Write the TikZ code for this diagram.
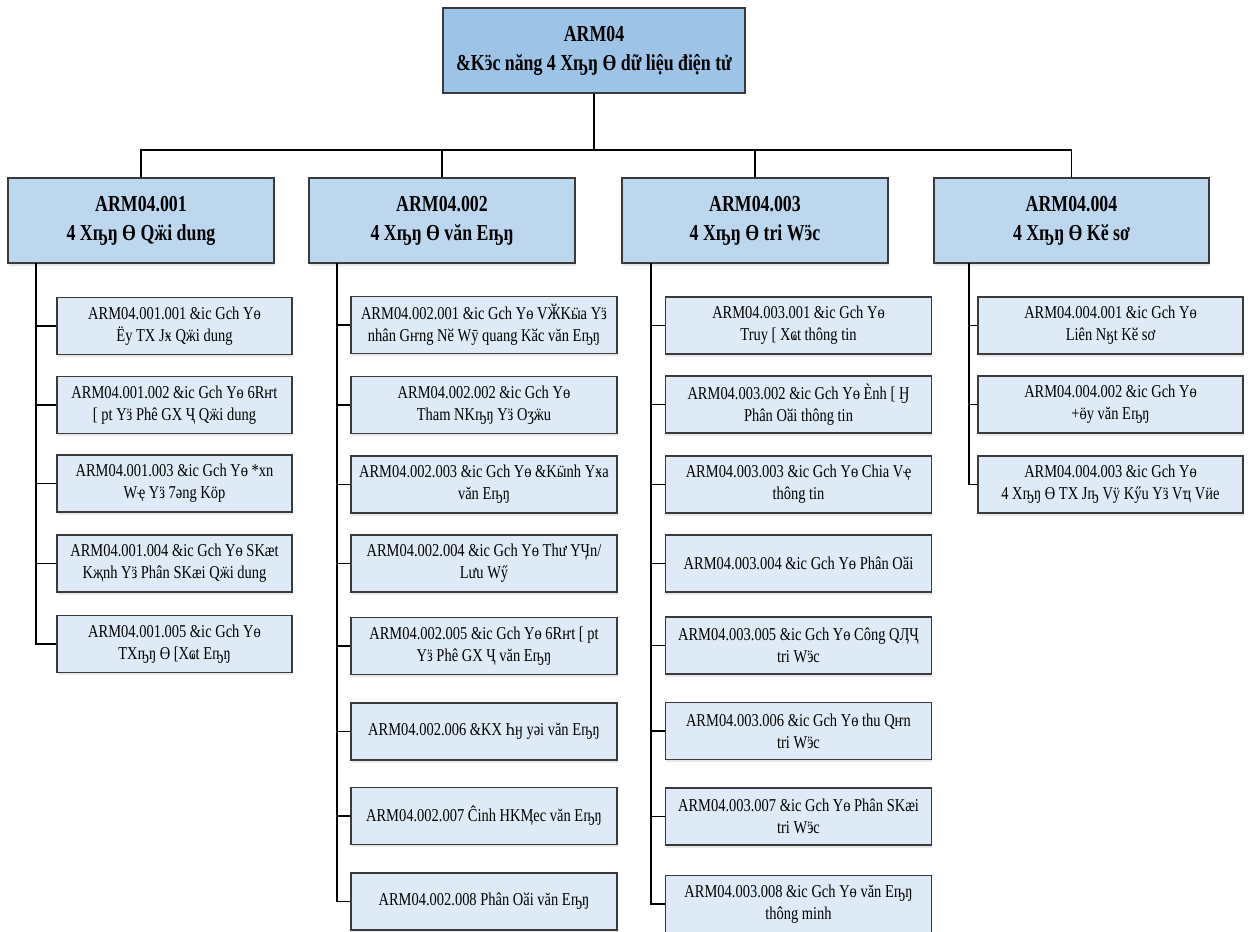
\documentclass[tikz,border=0pt]{standalone}
\usepackage{fontspec}
\setmainfont{Liberation Serif}[FakeStretch=0.78]
\newfontfamily\itemfont{Liberation Serif}[FakeStretch=0.8]
\usetikzlibrary{shadows}

\definecolor{rootblue}{HTML}{9DC3E6}
\definecolor{groupblue}{HTML}{BDD7EE}
\definecolor{itemblue}{HTML}{DEEBF7}
\definecolor{edgegray}{HTML}{3A3A3A}

\begin{document}
\begin{tikzpicture}[x=0.02cm, y=-0.02cm,
	rootbox/.style={draw=edgegray, thick, fill=rootblue, align=center, inner xsep=1pt, font=\fontsize{13}{16.5}\selectfont\bfseries, minimum width=6.04cm, minimum height=1.7cm},
	groupbox/.style={draw=edgegray, thick, fill=groupblue, align=center, font=\fontsize{13}{16.5}\selectfont\bfseries, minimum width=5.32cm, minimum height=1.7cm, drop shadow={shadow xshift=0.4pt, shadow yshift=-1.6pt, opacity=0.18}},
	itembox/.style={draw=edgegray, thick, fill=itemblue, align=center, inner xsep=1pt, font=\itemfont\fontsize{10.3}{12.6}\selectfont, minimum width=5.32cm, minimum height=1.14cm, drop shadow={shadow xshift=0.4pt, shadow yshift=-1.6pt, opacity=0.18}},
	link/.style={black, line width=0.8pt}]
	\useasboundingbox (0,0) rectangle (1251,931);
	% top
	\node[rootbox] (root) at (594,50.5) {ARM04\\\&Kӭc năng 4 Xҧŋ Ө dữ liệu điện tử};
	% groups
	\node[groupbox] (a) at (141,220.5) {ARM04.001\\4 Xҧŋ Ө Qӝi dung};
	\node[groupbox] (b) at (442,220.5) {ARM04.002\\4 Xҧŋ Ө văn Eҧŋ};
	\node[groupbox] (c) at (755,220.5) {ARM04.003\\4 Xҧŋ Ө tri Wӭc};
	\node[groupbox, minimum width=5.5cm] (d) at (1071.5,220.5) {ARM04.004\\4 Xҧŋ Ө Kӗ sơ};
	% items ARM04.001
	\node[itembox, minimum width=4.7cm] (a1) at (174.5,326) {ARM04.001.001 \&ic Gch Yө\\Ëy TX Jӿ Qӝi dung};
	\node[itembox, minimum width=4.7cm] (a2) at (174.5,405) {ARM04.001.002 \&ic Gch Yө 6Rҥt\\{}[ pt Yӟ Phê GX Ҷ Qӝi dung};
	\node[itembox, minimum width=4.7cm] (a3) at (174.5,483.5) {ARM04.001.003 \&ic Gch Yө *xn\\Wҿ Yӟ 7әng Kӧp};
	\node[itembox, minimum width=4.7cm] (a4) at (174.5,563.5) {ARM04.001.004 \&ic Gch Yө SKӕt\\Kҗnh Yӟ Phân SKӕi Qӝi dung};
	\node[itembox, minimum width=4.7cm] (a5) at (174.5,644) {ARM04.001.005 \&ic Gch Yө\\TXҧŋ Ө [Xҩt Eҧŋ};
	% items ARM04.002
	\node[itembox] (b1) at (484,325) {ARM04.002.001 \&ic Gch Yө VӁKӹa Yӟ\\nhân Gҥng Nӗ Wӯ quang Kӑc văn Eҧŋ};
	\node[itembox] (b2) at (484,405) {ARM04.002.002 \&ic Gch Yө\\Tham NKҧŋ Yӟ Oӡӝu};
	\node[itembox] (b3) at (484,484.5) {ARM04.002.003 \&ic Gch Yө \&Kӹnh Yӿa\\văn Eҧŋ};
	\node[itembox] (b4) at (484,563.5) {ARM04.002.004 \&ic Gch Yө Thư YӋn/\\Lưu Wӳ};
	\node[itembox] (b5) at (484,646) {ARM04.002.005 \&ic Gch Yө 6Rҥt [ pt\\Yӟ Phê GX Ҷ văn Eҧŋ};
	\node[itembox] (b6) at (484,731.5) {ARM04.002.006 \&KX Һӈ yәi văn Eҧŋ};
	\node[itembox] (b7) at (484,816) {ARM04.002.007 Ĉinh HKӍec văn Eҧŋ};
	\node[itembox] (b8) at (484,901.5) {ARM04.002.008 Phân Oӑi văn Eҧŋ};
	% items ARM04.003
	\node[itembox] (c1) at (798.5,325.5) {ARM04.003.001 \&ic Gch Yө\\Truy [ Xҩt thông tin};
	\node[itembox] (c2) at (798.5,404.5) {ARM04.003.002 \&ic Gch Yө Ènh [ Ӈ\\Phân Oӑi thông tin};
	\node[itembox] (c3) at (798.5,484.5) {ARM04.003.003 \&ic Gch Yө Chia Vҿ\\thông tin};
	\node[itembox] (c4) at (798.5,563.5) {ARM04.003.004 \&ic Gch Yө Phân Oӑi};
	\node[itembox] (c5) at (798.5,645.5) {ARM04.003.005 \&ic Gch Yө Công QӅҶ\\tri Wӭc};
	\node[itembox] (c6) at (798.5,731) {ARM04.003.006 \&ic Gch Yө thu Qҥn\\tri Wӭc};
	\node[itembox] (c7) at (798.5,816.5) {ARM04.003.007 \&ic Gch Yө Phân SKӕi\\tri Wӭc};
	\node[itembox] (c8) at (798.5,904) {ARM04.003.008 \&ic Gch Yө văn Eҧŋ\\thông minh};
	% items ARM04.004
	\node[itembox, minimum width=5.3cm] (d1) at (1110.5,325.5) {ARM04.004.001 \&ic Gch Yө\\Liên Nӄt Kӗ sơ};
	\node[itembox, minimum width=5.3cm] (d2) at (1110.5,404.5) {ARM04.004.002 \&ic Gch Yө\\+ӫy văn Eҧŋ};
	\node[itembox, minimum width=5.3cm] (d3) at (1110.5,484.5) {ARM04.004.003 \&ic Gch Yө\\4 Xҧŋ Ө TX Jҧ Vӱ Kӳu Yӟ Vҵ Vӥe};
	% links
	\coordinate (bus) at (594,150);
	\coordinate (as) at (36,263);
	\coordinate (bs) at (337,263);
	\coordinate (cs) at (651,263);
	\coordinate (ds) at (969,263);
	\draw[link] (root.south) -- (bus);
	\draw[link] (a.north) |- (bus) -| (d.north);
	\draw[link] (b.north) -- (b.north |- bus);
	\draw[link] (c.north) -- (c.north |- bus);
	\foreach \k in {1,...,5} \draw[link] (as) |- (a\k.west);
	\foreach \k in {1,...,8} \draw[link] (bs) |- (b\k.west);
	\foreach \k in {1,...,8} \draw[link] (cs) |- (c\k.west);
	\foreach \k in {1,...,3} \draw[link] (ds) |- (d\k.west);
\end{tikzpicture}
\end{document}
